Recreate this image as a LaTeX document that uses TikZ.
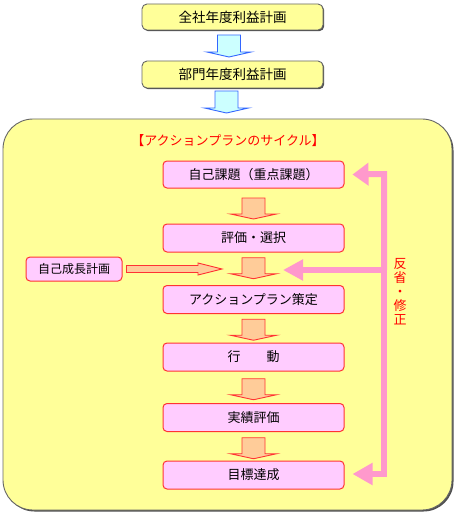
\documentclass[tikz,border=0pt]{standalone}
\usepackage{fontspec}
\setmainfont{Noto Sans CJK JP}
\usetikzlibrary{arrows.meta,calc}
\definecolor{paleyellow}{HTML}{FFFF99}
\definecolor{boxgray}{HTML}{666666}
\definecolor{shadowgray}{HTML}{505050}
\definecolor{boxpink}{HTML}{FFCCFF}
\definecolor{boxred}{HTML}{FF3333}
\definecolor{arroworange}{HTML}{FFCC99}
\definecolor{arrowcyan}{HTML}{CCFFFF}
\definecolor{arrowblue}{HTML}{3366FF}
\definecolor{loopink}{HTML}{FF99CC}
\definecolor{textred}{HTML}{FF0000}
\begin{document}
\begin{tikzpicture}[x=1pt,y=-1pt,
  jp/.style={font=\fontsize{13}{15}\selectfont},
  planbox/.style={font=\fontsize{13.5}{15}\selectfont,draw=boxgray,line width=0.9pt,fill=paleyellow,rounded corners=5pt,
    minimum width=181pt,minimum height=27pt,inner sep=0pt},
  stepbox/.style={jp,draw=boxred,line width=1pt,fill=boxpink,rounded corners=4pt,
    minimum width=181pt,minimum height=28pt,inner sep=0pt},
  smallbox/.style={draw=boxred,line width=1pt,fill=boxpink,rounded corners=4pt,
    minimum width=96pt,minimum height=24pt,inner sep=0pt,font=\fontsize{12}{14}\selectfont},
  looparrow/.style={draw=loopink,line width=6pt,line join=miter},
  orangearrow/.pic={\draw[boxred,line width=0.9pt,fill=arroworange,line join=miter]
    (-11.5,-10.5) -- (11.5,-10.5) -- (11.5,5.5) -- (23,5.5) -- (0,10.5) -- (-23,5.5) -- (-11.5,5.5) -- cycle;},
  bluearrow/.pic={\draw[arrowblue,line width=0.9pt,fill=arrowcyan,line join=miter]
    (-11.5,-11) -- (11.5,-11) -- (11.5,6) -- (22,6) -- (0,11) -- (-22,6) -- (-11.5,6) -- cycle;}
]
\useasboundingbox (0,0) rectangle (456,513);
\fill[white] (0,0) rectangle (456,513);

% shadows of top boxes
\fill[shadowgray,rounded corners=5pt] (143.2,5.2) rectangle (324.2,31.2);
\fill[shadowgray,rounded corners=5pt] (143.2,62.2) rectangle (324.2,89.2);
\node[planbox,minimum height=26pt] (top1) at (232.5,17) {全社年度利益計画};
\node[planbox] (top2) at (232.5,74.5) {部門年度利益計画};

% big frame
\fill[shadowgray,rounded corners=30pt] (4.5,120.5) rectangle (453.5,511.5);
\node[draw=boxgray,line width=0.9pt,fill=paleyellow,rounded corners=30pt,
  minimum width=449pt,minimum height=391pt,inner sep=0pt] (frame) at (227.5,314.5) {};

\pic at ($(top1.south)!0.5!(top2.north)+(-3.5,0.5)$) {bluearrow};
\pic at ($(top2.south)!0.5!(frame.north)+(-3.5,-1.5)$) {bluearrow};

\node[jp,text=textred] (title) at (228,141) {【アクションプランのサイクル】};

\node[stepbox,minimum height=27pt] (b1) at (253.5,174.5) {自己課題（重点課題）};
\node[stepbox] (b2) at (253.5,238) {評価・選択};
\node[stepbox] (b3) at (253.5,299.5) {アクションプラン策定};
\node[stepbox] (b4) at (253.5,357) {行　　動};
\node[stepbox] (b5) at (253.5,417.5) {実績評価};
\node[stepbox] (b6) at (253.5,475) {目標達成};
\node[smallbox] (self) at (74,269) {自己成長計画};

\pic at ($(b1.south)!0.5!(b2.north)+(0,2.5)$) {orangearrow};
\pic at ($(b2.south)!0.5!(b3.north)+(0,-0.5)$) {orangearrow};
\pic at ($(b3.south)!0.5!(b4.north)+(0,1.5)$) {orangearrow};
\pic at ($(b4.south)!0.5!(b5.north)+(0,2)$) {orangearrow};
\pic at ($(b5.south)!0.5!(b6.north)+(0,2)$) {orangearrow};

% thin arrow from 自己成長計画
\coordinate (selftip) at (222,269);
\draw[boxred,line width=0.9pt,fill=arroworange,line join=miter]
  ($(self.east)+(4,-3.5)$) -- (198,265.5) -- (198,263) -- (selftip) -- (198,275) -- (198,272.5) -- ($(self.east)+(4,3.5)$) -- cycle;

% feedback loop
\coordinate (fbtop) at (384,174);
\coordinate (fbmid) at (384,270);
\coordinate (fbbot) at (384,474);
\coordinate (tip1) at ($(b1.east)+(8,0)$);
\coordinate (tip6) at ($(b6.east)+(8,-1)$);
\coordinate (tipm) at (283,270);
\draw[looparrow,-{Triangle[length=16pt,width=22pt]}] (fbmid) -- ($(fbtop)+(0,-3)$) -- (fbtop) -- (tip1);
\draw[looparrow] (fbmid) -- ($(fbtop)+(0,-3)$) -| (fbtop);
\draw[looparrow,-{Triangle[length=20pt,width=21pt]}] (fbmid) -- (fbbot) -- (tip6);
\draw[looparrow,-{Triangle[length=20pt,width=20pt]}] ($(fbmid)+(3,0)$) -- (tipm);

\node[text=textred,align=center,inner sep=0pt,font=\fontsize{13}{14}\selectfont] (fbtext) at (400,291.5)
  {反\\省\\・\\修\\正};
\end{tikzpicture}
\end{document}
